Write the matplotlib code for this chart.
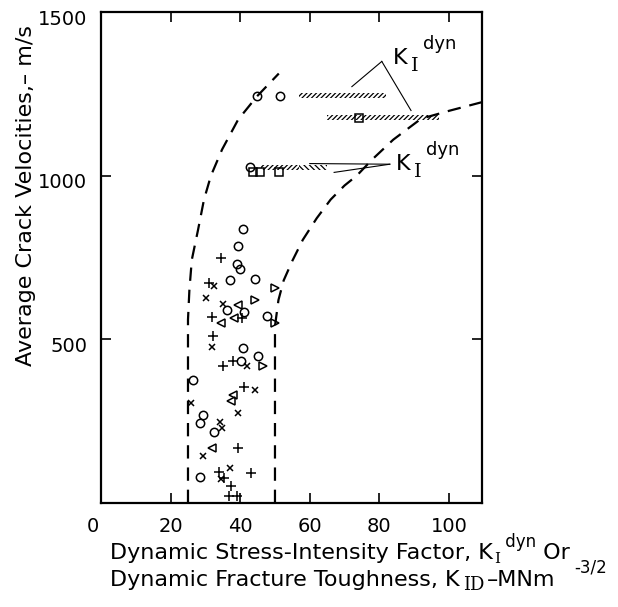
import matplotlib
matplotlib.use("Agg")
import matplotlib.pyplot as plt
from matplotlib.patches import Rectangle
from matplotlib.transforms import ScaledTranslation

plt.rcParams['font.family'] = ['DejaVu Sans']
plt.rcParams['mathtext.fontset'] = 'dejavusans'
plt.rcParams['hatch.linewidth'] = 0.9

# ---------------- data ----------------
circle_x = [40.7, 39.5, 39.0, 39.9, 37.1, 44.4, 36.3, 41.2, 47.6, 40.7, 45.2, 40.1,
            26.5, 29.4, 28.4, 32.5, 28.4, 44.8, 51.4, 42.8]
circle_v = [837, 786, 730, 716, 682, 685, 590, 583, 570, 473, 450, 434,
            376, 269, 244, 218, 80, 1242, 1242, 1028]

plus_x = [34.4, 31.0, 31.9, 40.4, 32.1, 35.1, 37.8, 41.2, 39.3, 34.0, 43.0, 35.4, 37.3, 36.8, 39.0]
plus_v = [750, 672, 567, 565, 509, 420, 435, 353, 169, 96, 91, 75, 52, 21, 21]

cross_x = [32.5, 30.1, 35.1, 31.8, 41.9, 44.3, 25.8, 39.5, 34.2, 34.7, 29.2, 37.1, 34.5]
cross_v = [664, 626, 609, 476, 420, 346, 305, 274, 246, 228, 144, 106, 72]

tri_r_x = [50.0, 44.3, 50.0, 46.5]
tri_r_v = [657, 621, 551, 420]
tri_l_x = [39.3, 34.5, 38.3, 38.0, 37.5, 31.8]
tri_l_v = [605, 550, 565, 330, 313, 167]

square_x = [43.7, 45.7, 51.2, 74.1]
square_v = [1012, 1012, 1012, 1177]

# hatched K_I^dyn bands: (x start, x end, velocity)
band_x0 = [57, 65, 46, 57]
band_x1 = [82, 97, 57, 65]
band_v = [1245, 1177, 1025, 1025]
band_hatch = ['///////', '///////', '///////', '\\\\\\\\\\\\']

# dashed bounding curves
left_x = [25, 25, 25.4, 26.1, 27.9, 29.6, 31.6, 34.8, 39.4, 44.8, 51.1]
left_v = [0, 560, 650, 743, 835, 927, 1000, 1080, 1171, 1242, 1312]
right_x = [50, 50, 51, 52.5, 55, 58, 62, 66, 70, 73.5, 78, 84, 92, 100, 110]
right_v = [0, 540, 620, 680, 740, 804, 870, 927, 970, 1000, 1050, 1110, 1174, 1198, 1226]

x_ticks = [0, 20, 40, 60, 80, 100]
y_ticks = [500, 1000, 1500]

# ---------------- figure ----------------
W, H = 618, 607
fig = plt.figure(figsize=(W/100, H/100), dpi=100)
ax = fig.add_axes([101/W, 1-503/H, (482-101)/W, (503-12)/H])
ax.set_xlim(0, 109.5)
ax.set_ylim(0, 1500)

dash = dict(color='black', lw=1.6, dashes=(6, 4))
ax.plot(left_x, left_v, **dash)
ax.plot(right_x, right_v, **dash)

mk = dict(linestyle='none', color='black', mfc='none', mew=1.1)
ax.plot(circle_x, circle_v, marker='o', ms=6, **mk)
ax.plot(plus_x, plus_v, marker='+', ms=7, **mk)
ax.plot(cross_x, cross_v, marker='x', ms=5, **mk)
ax.plot(tri_r_x, tri_r_v, marker='>', ms=6, **mk)
ax.plot(tri_l_x, tri_l_v, marker='<', ms=6, **mk)
ax.plot(square_x, square_v, marker='s', ms=5.5, **mk)

for x0, x1, v, h in zip(band_x0, band_x1, band_v, band_hatch):
    ax.add_patch(Rectangle((x0, v - 8), x1 - x0, 16, fill=False, lw=0,
                           hatch=h, edgecolor='black'))

# annotation leaders
ax.plot([80.7, 72.1], [1349, 1272], color='black', lw=0.8)
ax.plot([80.7, 89.1], [1349, 1199], color='black', lw=0.8)
ax.plot([83, 60], [1035, 1037], color='black', lw=0.8)
ax.plot([83, 67], [1035, 1010], color='black', lw=0.8)


def klabel(px, py):
    # px, py: pixel position of the K's left edge / vertical centre
    fig.text(px/W, 1-py/H, 'K', fontsize=16, ha='left', va='center')
    fig.text((px+18)/W, 1-(py+8)/H, 'I', fontsize=14, family='DejaVu Serif',
             ha='left', va='center')
    fig.text((px+30)/W, 1-(py-14)/H, 'dyn', fontsize=13, ha='left', va='center')


klabel(393, 58)
klabel(396, 164)

ax.set_xticks(x_ticks)
ax.set_yticks(y_ticks)
ax.tick_params(direction='in', length=7, width=1.2, labelsize=14,
               top=True, right=True)
ax.tick_params(axis='x', pad=10)
ax.tick_params(axis='y', pad=10)
for s in ax.spines.values():
    s.set_linewidth(1.6)

# y tick labels sit a little below their ticks in the original
down = ScaledTranslation(0, -5/100, fig.dpi_scale_trans)
for lbl in ax.get_yticklabels():
    lbl.set_transform(lbl.get_transform() + down)
left = ScaledTranslation(-8/100, 0, fig.dpi_scale_trans)
ax.get_xticklabels()[0].set_transform(ax.get_xticklabels()[0].get_transform() + left)

fig.text(26/W, 1-195/H, 'Average Crack Velocities,– m/s', rotation=90,
         fontsize=16, ha='center', va='center')

renderer = fig.canvas.get_renderer()


def run(x, base, pieces):
    # pieces: (text, fontsize, vertical pixel shift (up positive), family, gap px, min x)
    for txt, fs, dy, fam, gap, xmin in pieces:
        x = max(x + gap, xmin)
        t = fig.text(x/W, 1-(base-dy)/H, txt, fontsize=fs, family=fam,
                     ha='left', va='baseline')
        x += t.get_window_extent(renderer).width
    return x


fs = 16
end1 = run(110, 559, [('Dynamic Stress-Intensity Factor, K', fs, 0, 'DejaVu Sans', 0, 0),
                      ('I', 11, -4, 'DejaVu Serif', 1, 0),
                      (' dyn', 12, 12, 'DejaVu Sans', 0, 0),
                      (' Or', fs, 0, 'DejaVu Sans', 0, 0)])
run(110, 586, [('Dynamic Fracture Toughness, K', fs, 0, 'DejaVu Sans', 0, 0),
               ('ID', 13, -4, 'DejaVu Serif', 3, 0),
               ('–MNm', fs, 0, 'DejaVu Sans', 3, 0),
               ('-3/2', 12, 14, 'DejaVu Sans', 3, end1 + 4)])

fig.savefig('out.png', dpi=100)
